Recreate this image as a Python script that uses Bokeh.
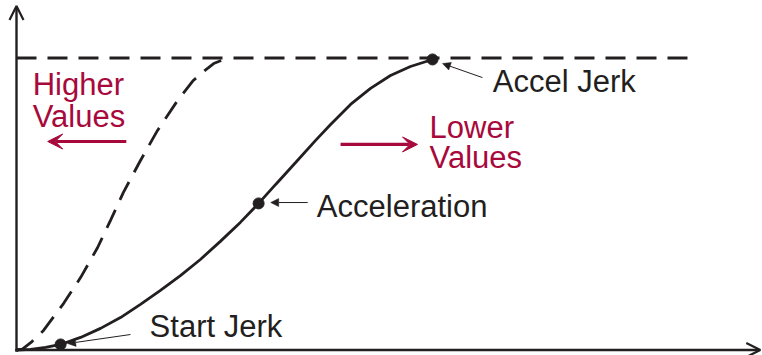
from bokeh.plotting import figure
from bokeh.models import Range1d, Arrow, OpenHead, NormalHead, VeeHead, Label
from bokeh.embed import file_html
from bokeh.resources import INLINE

# ---- data (time normalised to Accel Jerk point = 1, velocity normalised to target = 1)
solid_x = [0.0, 0.034, 0.070, 0.106, 0.154, 0.202, 0.250, 0.298, 0.346, 0.394, 0.442,
           0.490, 0.538, 0.582, 0.623, 0.671, 0.719, 0.755, 0.803, 0.851, 0.899, 0.947, 1.0]
solid_y = [0.0, 0.002, 0.009, 0.019, 0.043, 0.074, 0.111, 0.156, 0.204, 0.255, 0.310,
           0.372, 0.437, 0.502, 0.567, 0.642, 0.718, 0.772, 0.841, 0.896, 0.940, 0.971, 0.995]

dash_x = [0.0, 0.014, 0.035, 0.065, 0.113, 0.154, 0.195, 0.226, 0.257, 0.298, 0.339,
          0.387, 0.425, 0.450, 0.474, 0.495, 0.514]
dash_y = [0.0, 0.003, 0.026, 0.067, 0.159, 0.248, 0.351, 0.444, 0.540, 0.649, 0.752,
          0.854, 0.923, 0.954, 0.981, 0.993, 1.0]

limit_x = [0.0, 1.632]
limit_y = [1.0, 1.0]

key_names = ["Start Jerk", "Acceleration", "Accel Jerk"]
key_x = [0.106, 0.582, 1.0]
key_y = [0.019, 0.502, 0.995]

BLACK = "#231F20"
RED = "#A8093D"
FONT = "Liberation Sans"

p = figure(width=762, height=355,
           x_range=Range1d(-0.03846, 1.79327), y_range=Range1d(-0.01884, 1.19692),
           output_backend="svg", toolbar_location=None, min_border=0,
           x_axis_type=None, y_axis_type=None)
p.grid.visible = False
p.outline_line_color = None
p.background_fill_color = "white"
p.border_fill_color = "white"

# axes with open arrow heads
p.add_layout(Arrow(end=OpenHead(size=14, line_width=2.2, line_color=BLACK),
                   x_start=0, y_start=-0.006, x_end=0, y_end=1.178,
                   line_width=2.4, line_color=BLACK))
p.add_layout(Arrow(end=OpenHead(size=14, line_width=2.2, line_color=BLACK),
                   x_start=-0.003, y_start=0, x_end=1.788, y_end=0,
                   line_width=2.4, line_color=BLACK))

# curves
p.line(limit_x, limit_y, line_width=2.8, line_color=BLACK, line_dash="20 11")
p.line(dash_x, dash_y, line_width=2.8, line_color=BLACK, line_dash="20 11")
p.line(solid_x, solid_y, line_width=2.8, line_color=BLACK)
p.scatter(key_x, key_y, size=11, color=BLACK)

# pointer arrows
ptr = dict(line_width=1.0, line_color=BLACK)
p.add_layout(Arrow(end=NormalHead(size=8, fill_color=BLACK, line_color=BLACK, line_width=0.5),
                   x_start=1.120, y_start=0.933, x_end=1.024, y_end=0.981, **ptr))
p.add_layout(Arrow(end=NormalHead(size=8, fill_color=BLACK, line_color=BLACK, line_width=0.5),
                   x_start=0.700, y_start=0.505, x_end=0.611, y_end=0.505, **ptr))
p.add_layout(Arrow(end=NormalHead(size=8, fill_color=BLACK, line_color=BLACK, line_width=0.5),
                   x_start=0.274, y_start=0.053, x_end=0.123, y_end=0.022, **ptr))

# red direction arrows
p.add_layout(Arrow(end=VeeHead(size=15, fill_color=RED, line_color=RED, line_width=1),
                   x_start=0.264, y_start=0.714, x_end=0.075, y_end=0.714,
                   line_width=3.2, line_color=RED))
p.add_layout(Arrow(end=VeeHead(size=15, fill_color=RED, line_color=RED, line_width=1),
                   x_start=0.779, y_start=0.704, x_end=0.964, y_end=0.704,
                   line_width=3.2, line_color=RED))

def lab(x, y, t, c):
    p.add_layout(Label(x=x, y=y, text=t, text_font=FONT, text_font_size="31px",
                       text_color=c, text_align="left", text_baseline="alphabetic"))

lab(1.145, 0.920, key_names[2], BLACK)
lab(0.722, 0.492, key_names[1], BLACK)
lab(0.320, 0.081, key_names[0], BLACK)
lab(0.039, 0.910, "Higher", RED)
lab(0.039, 0.800, "Values", RED)
lab(0.993, 0.762, "Lower", RED)
lab(0.993, 0.660, "Values", RED)

open("out.html", "w").write(file_html(p, INLINE))
